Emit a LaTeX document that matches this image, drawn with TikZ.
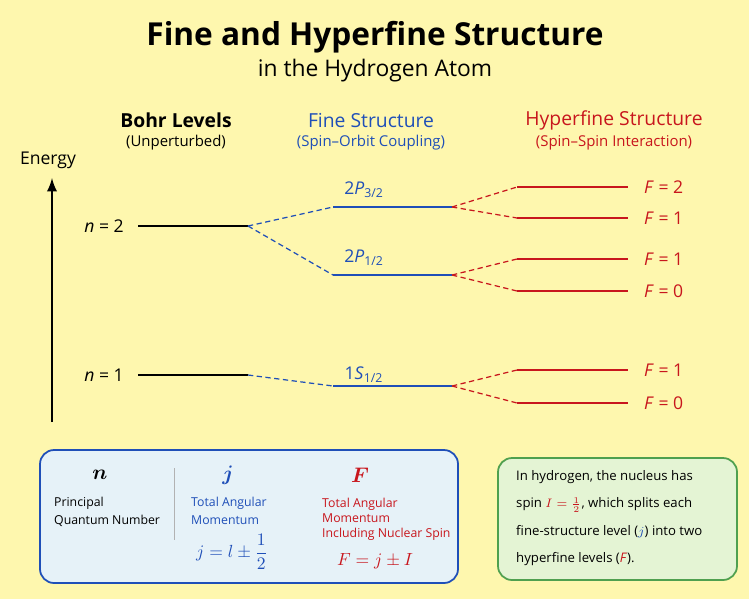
\documentclass[tikz,border=0pt]{standalone}
\usepackage{fontspec}
\setmainfont{Open Sans}
\usepackage{amsmath}
\definecolor{bgyel}{HTML}{FEF7AE}
\definecolor{fineblue}{HTML}{1F4FB8}
\definecolor{hypred}{HTML}{C8161D}
\definecolor{boxblue}{HTML}{E6F2F8}
\definecolor{boxgreen}{HTML}{E4F4D4}
\definecolor{edgegreen}{HTML}{4FA04F}
\tikzset{
  level/.style={line width=1.1pt},
  split/.style={line width=0.7pt,dash pattern=on 3pt off 2pt},
  lbl/.style={font=\fontsize{10}{12}\selectfont},
  small/.style={font=\fontsize{7}{8.5}\selectfont,align=left,anchor=west}
}
\begin{document}
\begin{tikzpicture}[x=0.02cm,y=-0.02cm]
\fill[bgyel] (0,0) rectangle (749,599);
\useasboundingbox (0,0) rectangle (749,599);

% titles
\node (title) at (375,37) {\fontsize{18}{22}\selectfont\bfseries Fine and Hyperfine Structure};
\node (subtitle) at (375,71) {\fontsize{13}{15}\selectfont in the Hydrogen Atom};
\node (bohrh) at (176,120) {\fontsize{11}{13}\selectfont\bfseries Bohr Levels};
\node (bohrs) at (176,143) {\fontsize{8.5}{10}\selectfont (Unperturbed)};
\node[fineblue] (fineh) at (371,120) {\fontsize{11}{13}\selectfont Fine Structure};
\node[fineblue] (fines) at (371,143) {\fontsize{8.5}{10}\selectfont (Spin--Orbit Coupling)};
\node[hypred] (hyph) at (614,120) {\fontsize{11}{13}\selectfont Hyperfine Structure};
\node[hypred] (hyps) at (614,143) {\fontsize{8.5}{10}\selectfont (Spin--Spin Interaction)};

% energy axis
\coordinate (ebot) at (52,422);
\coordinate (etop) at (52,178);
\draw[line width=1.6pt,-latex] (ebot) -- (etop);
\node[lbl] (energy) at (48,160) {Energy};

% Bohr levels
\draw[level] (138,226) coordinate (b2l) -- (248,226) coordinate (b2);
\draw[level] (138,375) coordinate (b1l) -- (248,375) coordinate (b1);
\node[lbl,anchor=east] (n2) at (130,226) {\textit{n} = 2};
\node[lbl,anchor=east] (n1) at (130,375) {\textit{n} = 1};

% fine levels
\begin{scope}[fineblue]
\draw[level] (333,207) coordinate (p32l) -- (452,207) coordinate (p32);
\draw[level] (333,275) coordinate (p12l) -- (452,275) coordinate (p12);
\draw[level] (333,386) coordinate (s12l) -- (452,386) coordinate (s12);
\node[lbl] (lp32) at (364,190) {2\textit{P}\textsubscript{3/2}};
\node[lbl] (lp12) at (364,258) {2\textit{P}\textsubscript{1/2}};
\node[lbl] (ls12) at (364,375) {1\textit{S}\textsubscript{1/2}};
\draw[split] (b2) -- (p32l);
\draw[split] (b2) -- (p12l);
\draw[split] (b1) -- (s12l);
\end{scope}

% hyperfine levels
\begin{scope}[hypred]
\foreach \y/\f/\n/\src in {187/2/ha/p32,218/1/hb/p32,259/1/hc/p12,291/0/hd/p12,370/1/he/s12,403/0/hf/s12}{
  \draw[level] (517,\y) coordinate (\n) -- (628,\y);
  \node[lbl,anchor=west] at (638,\y) {\textit{F} = \f};
  \draw[split] (\src) -- (\n);
}
\end{scope}

% legend box
\draw[fineblue,fill=boxblue,line width=1pt,rounded corners=8pt] (40,450) rectangle (458,583);
\draw[gray!60] (174,468) -- (174,540);
\node (ln) at (100,475) {\large$\boldsymbol{n}$};
\node[small] (lnt) at (48,512) {Principal\\[2pt]Quantum Number};
\node[fineblue] (lj) at (228,475) {\large$\boldsymbol{j}$};
\node[small,fineblue] (ljt) at (185,511) {Total Angular\\[2pt]Momentum};
\node[fineblue] (ljf) at (232,552) {$j = l \pm \dfrac{1}{2}$};
\node[hypred] (lF) at (360,475) {\large$\boldsymbol{F}$};
\node[small,hypred] (lFt) at (316,519) {Total Angular\\Momentum\\Including Nuclear Spin};
\node[hypred] (lFf) at (375,561) {$F = j \pm I$};

% note box
\draw[edgegreen,fill=boxgreen,line width=1pt,rounded corners=8pt] (498,458) rectangle (737,580);
\node[small,font=\fontsize{7.5}{15.5}\selectfont] (note) at (510,518)
 {In hydrogen, the nucleus has\\
  spin \textcolor{hypred}{$I=\frac{1}{2}$}, which splits each\\
  fine-structure level (\textcolor{fineblue}{$j$}) into two\\
  hyperfine levels (\textcolor{hypred}{\textit{F}}).};
\end{tikzpicture}
\end{document}
